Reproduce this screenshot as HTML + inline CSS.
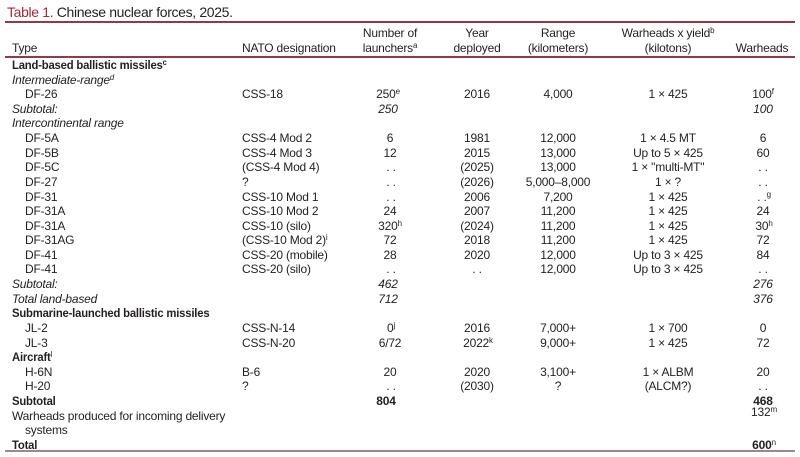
<!DOCTYPE html>
<html>
<head>
<meta charset="utf-8">
<style>
html,body{margin:0;padding:0;background:#fff;}
body{width:800px;height:457px;position:relative;overflow:hidden;font-family:"Liberation Sans",sans-serif;font-size:12px;color:#231f20;letter-spacing:-0.2px;}
.t{position:absolute;height:14px;line-height:14px;white-space:nowrap;}
.c{text-align:center;width:120px;}
.b{font-weight:bold;}
.sx{transform:scaleX(0.94);transform-origin:0 50%;}
.i{font-style:italic;}
sup{font-size:8px;vertical-align:4px;line-height:0;}
.ln{position:absolute;left:5px;width:790px;}
</style>
</head>
<body>
<div class="t" style="left:7px;top:4px;font-size:14px;height:16px;line-height:16px;letter-spacing:-0.35px;"><span style="color:#a3283a">Table 1.</span> Chinese nuclear forces, 2025.</div>
<div class="ln" style="top:21px;height:2px;background:#93384a;"></div>
<div class="ln" style="top:56px;height:2px;background:#93384a;"></div>
<div class="ln" style="top:450px;height:2px;background:#a4858e;"></div>

<!-- header -->
<div class="t" style="left:12px;top:41px;">Type</div>
<div class="t" style="left:242px;top:41px;">NATO designation</div>
<div class="t c" style="left:330px;top:26px;">Number of</div>
<div class="t c" style="left:330px;top:41px;">launchers<sup>a</sup></div>
<div class="t c" style="left:417px;top:26px;">Year</div>
<div class="t c" style="left:417px;top:41px;">deployed</div>
<div class="t c" style="left:498px;top:26px;">Range</div>
<div class="t c" style="left:498px;top:41px;">(kilometers)</div>
<div class="t c" style="left:608px;top:26px;">Warheads x yield<sup>b</sup></div>
<div class="t c" style="left:608px;top:41px;">(kilotons)</div>
<div class="t c" style="left:702px;top:41px;">Warheads</div>

<!-- rows -->
<div class="t b sx" style="left:12px;top:58px;">Land-based ballistic missiles<sup>c</sup></div>
<div class="t i" style="left:12px;top:73px;">Intermediate-range<sup>d</sup></div>

<div class="t" style="left:25px;top:87px;">DF-26</div>
<div class="t" style="left:242px;top:87px;">CSS-18</div>
<div class="t c" style="left:328px;top:87px;">250<sup>e</sup></div>
<div class="t c" style="left:417px;top:87px;">2016</div>
<div class="t c" style="left:498px;top:87px;">4,000</div>
<div class="t c" style="left:608px;top:87px;">1 × 425</div>
<div class="t c" style="left:703px;top:87px;">100<sup>f</sup></div>

<div class="t i" style="left:12px;top:102px;">Subtotal:</div>
<div class="t c i" style="left:328px;top:102px;">250</div>
<div class="t c i" style="left:703px;top:102px;">100</div>

<div class="t i" style="left:12px;top:116px;">Intercontinental range</div>

<div class="t" style="left:25px;top:131px;">DF-5A</div>
<div class="t" style="left:242px;top:131px;">CSS-4 Mod 2</div>
<div class="t c" style="left:330px;top:131px;">6</div>
<div class="t c" style="left:417px;top:131px;">1981</div>
<div class="t c" style="left:498px;top:131px;">12,000</div>
<div class="t c" style="left:608px;top:131px;">1 × 4.5 MT</div>
<div class="t c" style="left:703px;top:131px;">6</div>

<div class="t" style="left:25px;top:146px;">DF-5B</div>
<div class="t" style="left:242px;top:146px;">CSS-4 Mod 3</div>
<div class="t c" style="left:330px;top:146px;">12</div>
<div class="t c" style="left:417px;top:146px;">2015</div>
<div class="t c" style="left:498px;top:146px;">13,000</div>
<div class="t c" style="left:608px;top:146px;">Up to 5 × 425</div>
<div class="t c" style="left:703px;top:146px;">60</div>

<div class="t" style="left:25px;top:160px;">DF-5C</div>
<div class="t" style="left:242px;top:160px;">(CSS-4 Mod 4)</div>
<div class="t c" style="left:331px;top:160px;">. .</div>
<div class="t c" style="left:417px;top:160px;">(2025)</div>
<div class="t c" style="left:498px;top:160px;">13,000</div>
<div class="t c" style="left:608px;top:160px;">1 × "multi-MT"</div>
<div class="t c" style="left:703px;top:160px;">. .</div>

<div class="t" style="left:25px;top:175px;">DF-27</div>
<div class="t" style="left:242px;top:175px;">?</div>
<div class="t c" style="left:331px;top:175px;">. .</div>
<div class="t c" style="left:417px;top:175px;">(2026)</div>
<div class="t c" style="left:498px;top:175px;">5,000–8,000</div>
<div class="t c" style="left:608px;top:175px;">1 × ?</div>
<div class="t c" style="left:703px;top:175px;">. .</div>

<div class="t" style="left:25px;top:190px;">DF-31</div>
<div class="t" style="left:242px;top:190px;">CSS-10 Mod 1</div>
<div class="t c" style="left:331px;top:190px;">. .</div>
<div class="t c" style="left:417px;top:190px;">2006</div>
<div class="t c" style="left:498px;top:190px;">7,200</div>
<div class="t c" style="left:608px;top:190px;">1 × 425</div>
<div class="t c" style="left:704px;top:190px;">. .<sup>g</sup></div>

<div class="t" style="left:25px;top:204px;">DF-31A</div>
<div class="t" style="left:242px;top:204px;">CSS-10 Mod 2</div>
<div class="t c" style="left:330px;top:204px;">24</div>
<div class="t c" style="left:417px;top:204px;">2007</div>
<div class="t c" style="left:498px;top:204px;">11,200</div>
<div class="t c" style="left:608px;top:204px;">1 × 425</div>
<div class="t c" style="left:703px;top:204px;">24</div>

<div class="t" style="left:25px;top:219px;">DF-31A</div>
<div class="t" style="left:242px;top:219px;">CSS-10 (silo)</div>
<div class="t c" style="left:330px;top:219px;">320<sup>h</sup></div>
<div class="t c" style="left:417px;top:219px;">(2024)</div>
<div class="t c" style="left:498px;top:219px;">11,200</div>
<div class="t c" style="left:608px;top:219px;">1 × 425</div>
<div class="t c" style="left:704px;top:219px;">30<sup>h</sup></div>

<div class="t" style="left:25px;top:233px;">DF-31AG</div>
<div class="t" style="left:242px;top:233px;">(CSS-10 Mod 2)<sup>i</sup></div>
<div class="t c" style="left:330px;top:233px;">72</div>
<div class="t c" style="left:417px;top:233px;">2018</div>
<div class="t c" style="left:498px;top:233px;">11,200</div>
<div class="t c" style="left:608px;top:233px;">1 × 425</div>
<div class="t c" style="left:703px;top:233px;">72</div>

<div class="t" style="left:25px;top:248px;">DF-41</div>
<div class="t" style="left:242px;top:248px;">CSS-20 (mobile)</div>
<div class="t c" style="left:330px;top:248px;">28</div>
<div class="t c" style="left:417px;top:248px;">2020</div>
<div class="t c" style="left:498px;top:248px;">12,000</div>
<div class="t c" style="left:608px;top:248px;">Up to 3 × 425</div>
<div class="t c" style="left:703px;top:248px;">84</div>

<div class="t" style="left:25px;top:262px;">DF-41</div>
<div class="t" style="left:242px;top:262px;">CSS-20 (silo)</div>
<div class="t c" style="left:331px;top:262px;">. .</div>
<div class="t c" style="left:417px;top:262px;">. .</div>
<div class="t c" style="left:498px;top:262px;">12,000</div>
<div class="t c" style="left:608px;top:262px;">Up to 3 × 425</div>
<div class="t c" style="left:703px;top:262px;">. .</div>

<div class="t i" style="left:12px;top:277px;">Subtotal:</div>
<div class="t c i" style="left:328px;top:277px;">462</div>
<div class="t c i" style="left:703px;top:277px;">276</div>

<div class="t i" style="left:12px;top:292px;">Total land-based</div>
<div class="t c i" style="left:328px;top:292px;">712</div>
<div class="t c i" style="left:703px;top:292px;">376</div>

<div class="t b sx" style="left:12px;top:306px;">Submarine-launched ballistic missiles</div>

<div class="t" style="left:25px;top:321px;">JL-2</div>
<div class="t" style="left:242px;top:321px;">CSS-N-14</div>
<div class="t c" style="left:331px;top:321px;">0<sup>j</sup></div>
<div class="t c" style="left:417px;top:321px;">2016</div>
<div class="t c" style="left:498px;top:321px;">7,000+</div>
<div class="t c" style="left:608px;top:321px;">1 × 700</div>
<div class="t c" style="left:703px;top:321px;">0</div>

<div class="t" style="left:25px;top:336px;">JL-3</div>
<div class="t" style="left:242px;top:336px;">CSS-N-20</div>
<div class="t c" style="left:330px;top:336px;">6/72</div>
<div class="t c" style="left:418px;top:336px;">2022<sup>k</sup></div>
<div class="t c" style="left:498px;top:336px;">9,000+</div>
<div class="t c" style="left:608px;top:336px;">1 × 425</div>
<div class="t c" style="left:703px;top:336px;">72</div>

<div class="t b sx" style="left:12px;top:350px;">Aircraft<sup style="font-weight:normal">l</sup></div>

<div class="t" style="left:25px;top:365px;">H-6N</div>
<div class="t" style="left:242px;top:365px;">B-6</div>
<div class="t c" style="left:330px;top:365px;">20</div>
<div class="t c" style="left:417px;top:365px;">2020</div>
<div class="t c" style="left:498px;top:365px;">3,100+</div>
<div class="t c" style="left:608px;top:365px;">1 × ALBM</div>
<div class="t c" style="left:703px;top:365px;">20</div>

<div class="t" style="left:25px;top:379px;">H-20</div>
<div class="t" style="left:242px;top:379px;">?</div>
<div class="t c" style="left:331px;top:379px;">. .</div>
<div class="t c" style="left:417px;top:379px;">(2030)</div>
<div class="t c" style="left:498px;top:379px;">?</div>
<div class="t c" style="left:608px;top:379px;">(ALCM?)</div>
<div class="t c" style="left:703px;top:379px;">. .</div>

<div class="t b sx" style="left:12px;top:394px;">Subtotal</div>
<div class="t c b" style="left:326px;top:394px;">804</div>
<div class="t c b" style="left:703px;top:394px;">468</div>

<div class="t" style="left:12px;top:409px;">Warheads produced for incoming delivery</div>
<div class="t c" style="left:704px;top:405px;">132<sup>m</sup></div>
<div class="t" style="left:25px;top:423px;">systems</div>

<div class="t b sx" style="left:12px;top:438px;">Total</div>
<div class="t c b" style="left:704px;top:438px;">600<sup style="font-weight:normal">n</sup></div>
</body>
</html>
